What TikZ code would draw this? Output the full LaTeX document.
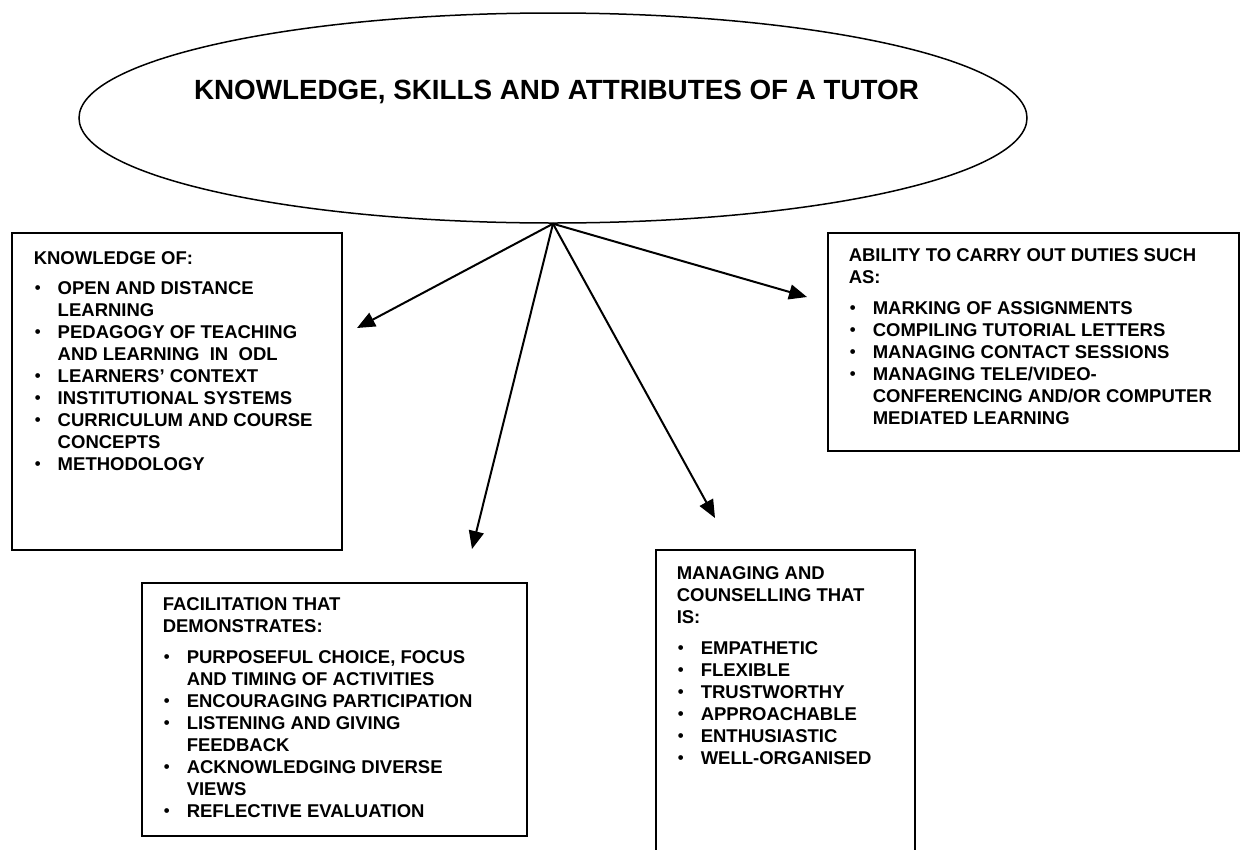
\documentclass[tikz,border=0pt]{standalone}
\usepackage{fontspec}
\setmainfont{Liberation Sans}
\usetikzlibrary{arrows.meta,positioning,shapes.geometric}
\tikzset{
tutor/.style={x=1pt,y=-1pt,line width=1.5pt},
topic/.style={ellipse,draw,minimum width=948pt,minimum height=210pt,inner sep=0pt},
headline/.style={anchor=base,inner sep=0pt,font=\fontsize{27.8}{33}\selectfont\bfseries},
panel/.style={rectangle,draw,inner sep=0pt,line width=1.5pt},
listing/.style={anchor=base west,inner sep=0pt,font=\fontsize{18.5}{22}\selectfont\bfseries},
branch/.style={-{Triangle[length=18pt,width=15pt]},line width=2pt},
}
\newcommand{\tutorhead}[1]{\multicolumn{2}{@{}l@{}}{#1}}
\newcommand{\bulletcell}{\hspace{1pt}\raisebox{0.6pt}{\scalebox{0.9}{\textbullet}} &}

\begin{document}
\begin{tikzpicture}[tutor]
\clip (0,0) rectangle (1241,849);
\node[topic] (tutor) at (553,118) {};
\node[headline] (title) at (556.5,99) {KNOWLEDGE, SKILLS AND ATTRIBUTES OF A TUTOR};

\node[panel,minimum width=330pt,minimum height=317pt] (know) at (177,391.5) {};
\node[panel,minimum width=411pt,minimum height=218pt] (duty) at (1033.5,342) {};
\node[panel,minimum width=385pt,minimum height=253pt] (facil) at (334.5,709.5) {};
\node[panel,minimum width=259pt,minimum height=330pt] (counsel) at (785.5,715) {};

\node[listing] (knowtext) at (33,264) {\begin{tabular}[t]{@{}p{24pt}@{}l@{}}
\tutorhead{KNOWLEDGE OF:}\\[8pt]
\bulletcell OPEN AND DISTANCE\\
 & LEARNING\\
\bulletcell PEDAGOGY OF TEACHING\\
 & AND LEARNING~ IN~ ODL\\
\bulletcell LEARNERS’ CONTEXT\\
\bulletcell INSTITUTIONAL SYSTEMS\\
\bulletcell CURRICULUM AND COURSE\\
 & CONCEPTS\\
\bulletcell METHODOLOGY
\end{tabular}};
\node[listing] (dutytext) at (848,261) {\begin{tabular}[t]{@{}p{24pt}@{}l@{}}
\tutorhead{ABILITY TO CARRY OUT DUTIES SUCH}\\
\tutorhead{AS:}\\[9pt]
\bulletcell MARKING OF ASSIGNMENTS\\
\bulletcell COMPILING TUTORIAL LETTERS\\
\bulletcell MANAGING CONTACT SESSIONS\\
\bulletcell MANAGING TELE/VIDEO-\\
 & CONFERENCING AND/OR COMPUTER\\
 & MEDIATED LEARNING
\end{tabular}};
\node[listing] (faciltext) at (162,610) {\begin{tabular}[t]{@{}p{24pt}@{}l@{}}
\tutorhead{FACILITATION THAT}\\
\tutorhead{DEMONSTRATES:}\\[9pt]
\bulletcell PURPOSEFUL CHOICE, FOCUS\\
 & AND TIMING OF ACTIVITIES\\
\bulletcell ENCOURAGING PARTICIPATION\\
\bulletcell LISTENING AND GIVING\\
 & FEEDBACK\\
\bulletcell ACKNOWLEDGING DIVERSE\\
 & VIEWS\\
\bulletcell REFLECTIVE EVALUATION
\end{tabular}};
\node[listing] (counseltext) at (676,579) {\begin{tabular}[t]{@{}p{24pt}@{}l@{}}
\tutorhead{MANAGING AND}\\
\tutorhead{COUNSELLING THAT}\\
\tutorhead{IS:}\\[9pt]
\bulletcell EMPATHETIC\\
\bulletcell FLEXIBLE\\
\bulletcell TRUSTWORTHY\\
\bulletcell APPROACHABLE\\
\bulletcell ENTHUSIASTIC\\
\bulletcell WELL-ORGANISED
\end{tabular}};

\coordinate (knowtip) at (357,328);
\coordinate (faciltip) at (472,549);
\coordinate (counseltip) at (715,518);
\coordinate (dutytip) at (807,297);

\path[branch] (tutor.south) edge (knowtip);
\path[branch] (tutor.south) edge (faciltip);
\path[branch] (tutor.south) edge (counseltip);
\path[branch] (tutor.south) edge (dutytip);
\end{tikzpicture}
\end{document}
